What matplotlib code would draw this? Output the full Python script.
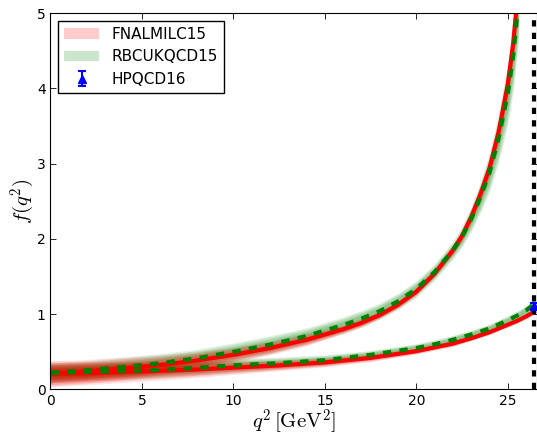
import matplotlib
matplotlib.use("Agg")
import matplotlib.pyplot as plt
from matplotlib.patches import Patch
import numpy as np

plt.rcParams['mathtext.fontset'] = 'cm'
plt.rcParams['xtick.direction'] = 'in'
plt.rcParams['ytick.direction'] = 'in'

# f+
q2_plus = [0, 2, 4, 6, 8, 10, 12, 14, 16, 17, 18, 19, 20, 21, 22, 22.5, 23, 23.5, 24, 24.5, 25, 25.3, 25.6]
fnal_plus = [0.21, 0.24, 0.28, 0.325, 0.385, 0.46, 0.55, 0.66, 0.80, 0.885, 0.99, 1.125, 1.30, 1.54, 1.85,
             2.04, 2.29, 2.59, 2.94, 3.42, 4.05, 4.60, 5.40]
fnal_plus_err = [0.17, 0.16, 0.15, 0.13, 0.12, 0.10, 0.09, 0.08, 0.06, 0.06, 0.05, 0.05, 0.05, 0.05, 0.06,
                 0.07, 0.08, 0.09, 0.12, 0.15, 0.20, 0.25, 0.30]
rbc_plus = [0.22, 0.255, 0.30, 0.35, 0.415, 0.50, 0.595, 0.71, 0.855, 0.94, 1.04, 1.17, 1.335, 1.56, 1.85,
            2.03, 2.265, 2.55, 2.88, 3.34, 3.93, 4.44, 5.18]
rbc_plus_err = [0.13, 0.13, 0.13, 0.13, 0.12, 0.12, 0.12, 0.11, 0.11, 0.11, 0.11, 0.11, 0.11, 0.11, 0.12,
                0.14, 0.17, 0.21, 0.26, 0.33, 0.42, 0.48, 0.55]

# f0
q2_zero = [0, 2.5, 5, 7.5, 10, 12.5, 15, 17.5, 20, 21, 22, 23, 24, 25, 25.5, 26, 26.42]
fnal_zero = [0.21, 0.22, 0.24, 0.26, 0.29, 0.32, 0.36, 0.42, 0.51, 0.56, 0.61, 0.68, 0.76, 0.86, 0.91, 0.97, 1.03]
fnal_zero_err = [0.17, 0.15, 0.13, 0.11, 0.09, 0.07, 0.06, 0.05, 0.04, 0.04, 0.04, 0.03, 0.03, 0.03, 0.03, 0.03, 0.03]
rbc_zero = [0.22, 0.235, 0.25, 0.28, 0.32, 0.35, 0.39, 0.46, 0.55, 0.60, 0.66, 0.73, 0.81, 0.92, 0.98, 1.05, 1.13]
rbc_zero_err = [0.13, 0.12, 0.11, 0.10, 0.09, 0.08, 0.07, 0.06, 0.06, 0.06, 0.06, 0.06, 0.06, 0.06, 0.06, 0.07, 0.07]

# HPQCD16 point
hpqcd_q2 = [26.42]
hpqcd_f0 = [1.11]
hpqcd_err = [0.04]
q2_max = 26.42


def band(ax, x, y, err, color):
    x = np.array(x)
    y = np.array(y)
    err = np.array(err)
    for s in [1.0, 0.85, 0.7, 0.55, 0.4]:
        ax.fill_between(x, y - s * err, y + s * err, color=color, alpha=0.11, lw=0)


fig = plt.figure(figsize=(5.37, 4.37), dpi=100)
ax = fig.add_axes([0.0939, 0.1087, 0.9061, 0.8613])

band(ax, q2_plus, rbc_plus, rbc_plus_err, 'g')
band(ax, q2_zero, rbc_zero, rbc_zero_err, 'g')
band(ax, q2_plus, fnal_plus, fnal_plus_err, 'r')
band(ax, q2_zero, fnal_zero, fnal_zero_err, 'r')

ax.plot(q2_plus, fnal_plus, color='r', lw=3)
ax.plot(q2_zero, fnal_zero, color='r', lw=3)
ax.plot(q2_plus, rbc_plus, color='g', lw=3, ls='--', dashes=(2, 2))
ax.plot(q2_zero, rbc_zero, color='g', lw=3, ls='--', dashes=(2, 2))

ax.axvline(q2_max, color='k', lw=3, ls='--', dashes=(1.5, 1.5))
eb = ax.errorbar(hpqcd_q2, hpqcd_f0, yerr=hpqcd_err, fmt='^', color='b', ms=6, capsize=3,
                 elinewidth=1.5, capthick=1.5, zorder=5, clip_on=False)

ax.set_xlim(0, 26.6)
ax.set_ylim(0, 5)
ax.set_xticks([0, 5, 10, 15, 20, 25])
ax.set_yticks([0, 1, 2, 3, 4, 5])
ax.tick_params(top=True, right=True, labelsize=10, length=4, width=0.6)
ax.set_xlabel(r'$q^2\,[\mathrm{GeV}^2]$', fontsize=15, labelpad=-1)
ax.set_ylabel(r'$f(q^2)$', fontsize=15, labelpad=0)

handles = [Patch(facecolor='r', alpha=0.2, lw=0), Patch(facecolor='g', alpha=0.2, lw=0), eb]
leg = ax.legend(handles, ['FNALMILC15', 'RBCUKQCD15', 'HPQCD16'], loc='upper left', fontsize=11,
                fancybox=False, framealpha=1, edgecolor='k', numpoints=1, handlelength=2.3,
                borderaxespad=0.5)
leg.get_frame().set_linewidth(1.0)

fig.savefig('out.png', dpi=100)
